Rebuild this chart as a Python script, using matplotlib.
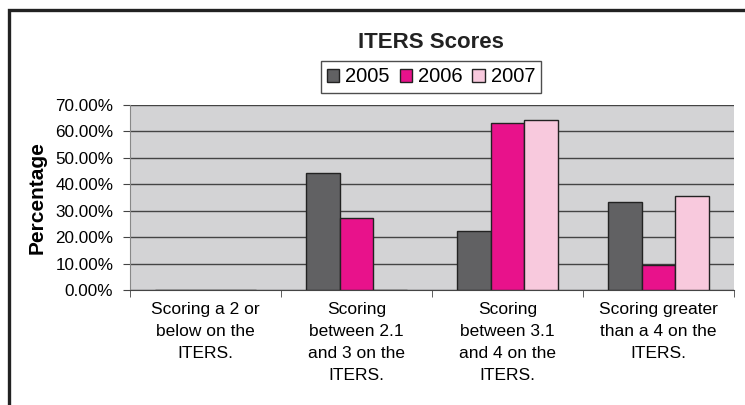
import numpy as np
import matplotlib.pyplot as plt
from matplotlib.patches import Rectangle
from matplotlib.ticker import FixedLocator

plt.rcParams['font.family'] = ['Liberation Sans', 'DejaVu Sans']

categories = ['Scoring a 2 or\nbelow on the\nITERS.',
              'Scoring\nbetween 2.1\nand 3 on the\nITERS.',
              'Scoring\nbetween 3.1\nand 4 on the\nITERS.',
              'Scoring greater\nthan a 4 on the\nITERS.']
years = ['2005', '2006', '2007']
v2005 = [0.0, 44.2, 22.3, 33.2]
v2006 = [0.0, 27.2, 63.3, 9.4]
v2007 = [0.0, 0.0, 64.3, 35.5]
colors = ['#616163', '#E8128B', '#F8C9DD']

fig = plt.figure(figsize=(7.45, 4.05), dpi=100)
ax = fig.add_axes([130/745, 1-290/405, 604/745, 185/405])

# outer chart frame (runs past the right and bottom edges)
fig.patches.append(Rectangle((8.5/745, -0.1), 1.1, 1 - 10.5/405 + 0.1,
                             transform=fig.transFigure, fill=False,
                             edgecolor='#222222', linewidth=2.4))

x = np.arange(len(categories))
w = 0.222
for i, (vals, yr) in enumerate(zip([v2005, v2006, v2007], years)):
    ax.bar(x + (i - 1) * w, vals, w, color=colors[i], edgecolor='#222222',
           linewidth=1.0, label=yr, zorder=3)

ax.set_facecolor('#D3D3D5')
ax.set_xlim(-0.5, 3.5)
ax.set_ylim(0, 70)
ax.set_yticks(np.arange(0, 71, 10))
ax.set_yticklabels([f'{v:.2f}%' for v in np.arange(0, 71, 10)], fontsize=12.3)
ax.yaxis.grid(True, color='#444444', linewidth=1.0, zorder=1)
ax.set_xticks(x)
ax.set_xticklabels(categories, fontsize=12.5, linespacing=1.6)
ax.tick_params(axis='x', which='major', length=0, pad=8.5)
ax.xaxis.set_minor_locator(FixedLocator([-0.5, 0.5, 1.5, 2.5, 3.5]))
ax.tick_params(axis='x', which='minor', length=5, color='#444444')
ax.tick_params(axis='y', length=5, color='#444444', pad=7)
for s in ['top', 'right']:
    ax.spines[s].set_visible(False)
ax.spines['left'].set_color('#888888')
ax.spines['bottom'].set_color('#444444')

ax.set_ylabel('Percentage', fontsize=15, fontweight='bold', labelpad=6)

fig.text(431/745, 1-42/405, 'ITERS Scores', ha='center', va='center',
         fontsize=16, fontweight='bold', color='#222222')
leg = fig.legend(loc='center', bbox_to_anchor=(431/745, 1-77/405), ncol=3,
                 fontsize=14.5, frameon=True, fancybox=False, edgecolor='#222222',
                 handlelength=0.6, handleheight=0.6, handletextpad=0.3,
                 columnspacing=0.5, borderpad=0.3)
leg.get_frame().set_linewidth(1.0)

fig.savefig('out.png', dpi=100)
